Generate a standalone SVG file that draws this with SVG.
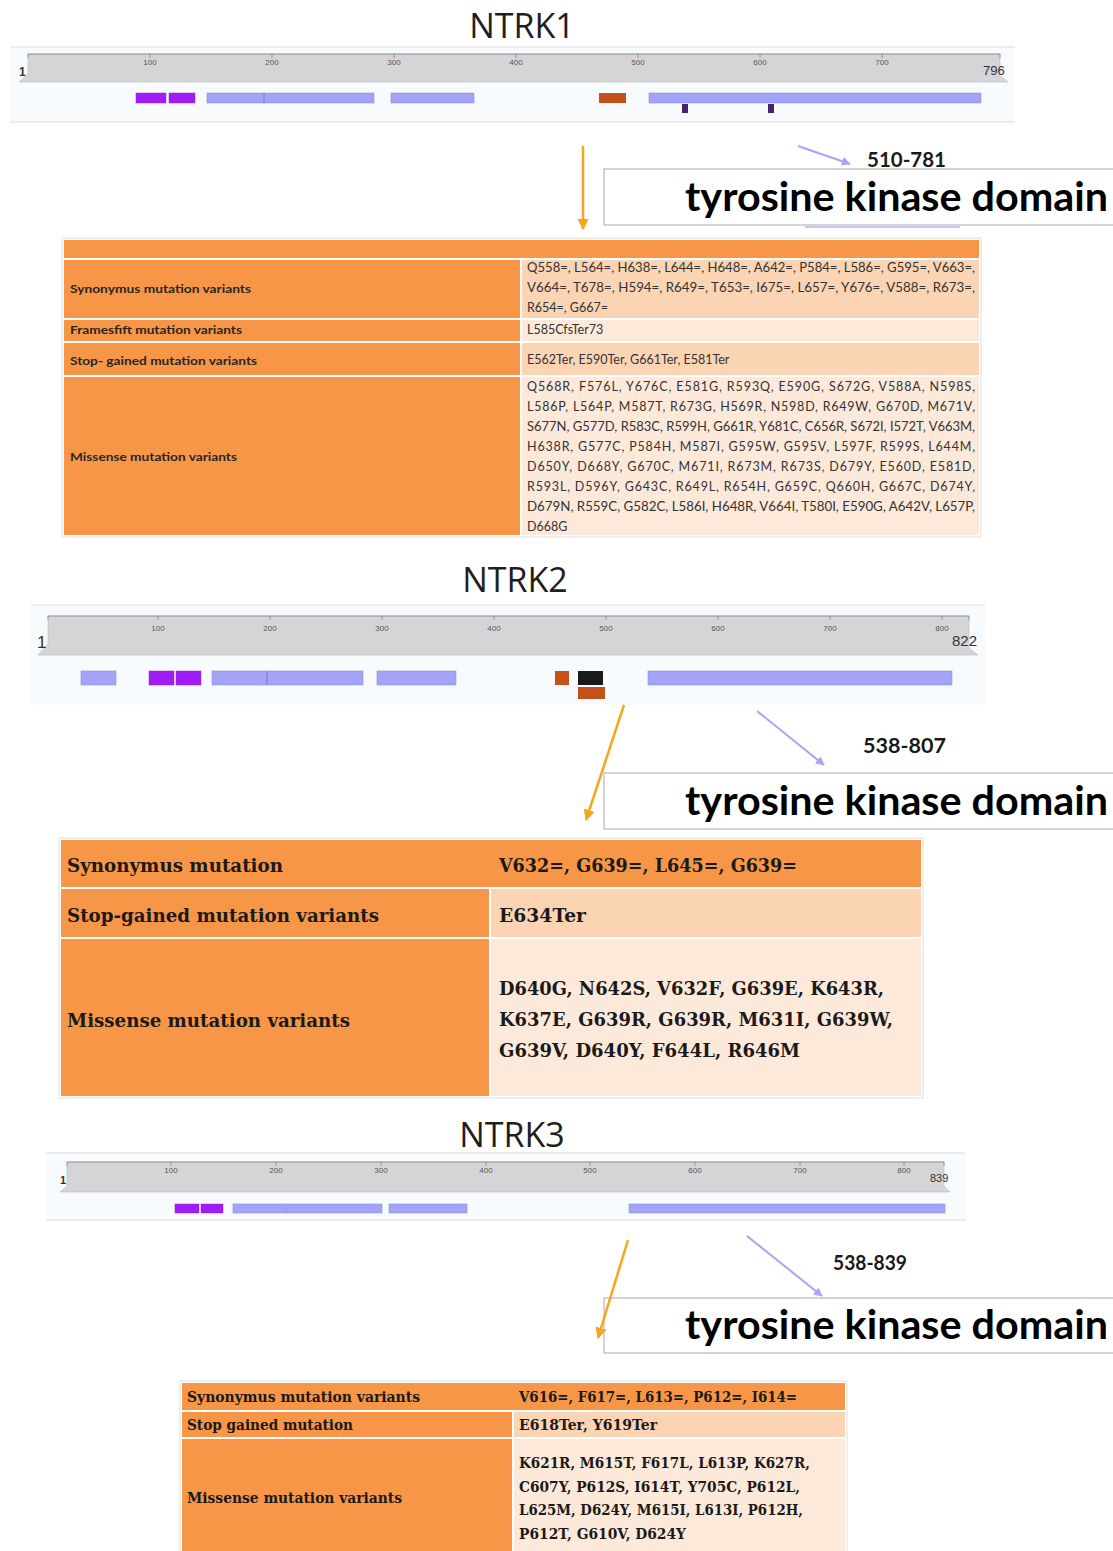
<svg xmlns="http://www.w3.org/2000/svg" width="1113" height="1551" viewBox="0 0 1113 1551">
<defs>
<style>
.title{font-family:"Open Sans","Noto Sans",sans-serif;font-size:34px;fill:#1e1e1e;text-anchor:middle}
.band{fill:#d5d5d7;stroke:#b8b8ba;stroke-width:0.6}
.cont{fill:#f8fbfd}
.cline{stroke:#dcdcdc;stroke-width:1}
.tick{stroke:#888;stroke-width:0.8}
.tl{font-family:"Liberation Sans",sans-serif;font-size:8px;fill:#555;text-anchor:middle}
.end{font-family:"Liberation Sans",sans-serif;fill:#333}
.pur{fill:#a01cf6;stroke:#8a2ad0;stroke-width:0.5}
.lav{fill:#a3a3fa;stroke:#9090d8;stroke-width:0.6}
.org{fill:#c4511c}
.blk{fill:#1a1a1a}
.mark{fill:#4a2068}
.or{fill:#f79646}
.pe{fill:#fbd4b4}
.lt{fill:#fde9d9}
.tframe{fill:#ffffff;stroke:#dedede;stroke-width:1}
.c1l{font-family:Lato,"Open Sans",sans-serif;font-weight:bold;font-size:12px;fill:#262626}
.c1r{font-family:Lato,"Open Sans",sans-serif;font-size:12.5px;fill:#333}
.sb{font-family:"DejaVu Serif","Liberation Serif",serif;font-weight:bold;fill:#1a1a1a}
.rng{font-family:Lato,"Open Sans",sans-serif;font-weight:bold;font-size:20px;fill:#1a1a1a}
.tkd{font-family:Lato,"Open Sans",sans-serif;font-weight:bold;font-size:40px;fill:#000}
.box{fill:#ffffff;stroke:#a8a8a8;stroke-width:1}
.ca{stroke:#f7a51e;stroke-width:2.5;fill:none}
.cl{stroke:#a6a6f2;stroke-width:2;fill:none}
</style>
<marker id="ao" viewBox="0 0 10 10" refX="9" refY="5" markerWidth="4.6" markerHeight="4.6" orient="auto"><path d="M0,0 L10,5 L0,10 z" fill="#f7a51e"/></marker>
<marker id="al" viewBox="0 0 10 10" refX="9" refY="5" markerWidth="4.5" markerHeight="4.5" orient="auto"><path d="M0,0 L10,5 L0,10 z" fill="#a6a6f2"/></marker>
</defs>
<rect x="0" y="0" width="1113" height="1551" fill="#ffffff"/>

<!-- NTRK1 -->
<g id="ntrk1-title"><text class="title" x="522" y="38">NTRK1</text></g>
<g id="ntrk1-ruler">
<rect class="cont" x="10" y="47" width="1005" height="75"/>
<line class="cline" x1="10" y1="47" x2="1015" y2="47"/>
<line class="cline" x1="10" y1="122" x2="1015" y2="122"/>
<polygon class="band" points="28,54 1000,54 1000,76 1008,82 19,82 28,74"/>
<line class="tick" x1="28" y1="54" x2="1000" y2="54"/>
<g class="tick"><line x1="28" y1="54" x2="28" y2="58"/><line x1="150" y1="54" x2="150" y2="58"/><line x1="272" y1="54" x2="272" y2="58"/><line x1="394" y1="54" x2="394" y2="58"/><line x1="516" y1="54" x2="516" y2="58"/><line x1="638" y1="54" x2="638" y2="58"/><line x1="760" y1="54" x2="760" y2="58"/><line x1="882" y1="54" x2="882" y2="58"/><line x1="1000" y1="54" x2="1000" y2="58"/></g>
<text class="tl" x="150" y="65">100</text><text class="tl" x="272" y="65">200</text><text class="tl" x="394" y="65">300</text><text class="tl" x="516" y="65">400</text><text class="tl" x="638" y="65">500</text><text class="tl" x="760" y="65">600</text><text class="tl" x="882" y="65">700</text>
<text class="end" x="19" y="76" font-size="12" font-weight="bold">1</text>
<text class="end" x="983" y="75" font-size="13">796</text>
</g>
<g id="ntrk1-domains">
<rect class="pur" x="136" y="93" width="30" height="10"/>
<rect class="pur" x="169" y="93" width="26" height="10"/>
<rect class="lav" x="207" y="93" width="167" height="10"/>
<line x1="264" y1="93" x2="264" y2="103" stroke="#7a7ac8" stroke-width="1"/>
<rect class="lav" x="391" y="93" width="83" height="10"/>
<rect class="org" x="599" y="93" width="27" height="10"/>
<rect class="lav" x="649" y="93" width="332" height="10"/>
<rect class="mark" x="682" y="104" width="6" height="9"/>
<rect class="mark" x="768" y="104" width="6" height="9"/>
</g>
<g id="ntrk1-label">
<text class="rng" x="867" y="167" textLength="79" lengthAdjust="spacingAndGlyphs">510-781</text>
<rect class="box" x="604" y="169" width="520" height="56"/>
<text class="tkd" x="685" y="211" textLength="423" lengthAdjust="spacingAndGlyphs">tyrosine kinase domain</text>
<line x1="805" y1="227" x2="960" y2="227" stroke="#b4b4f0" stroke-width="1.5"/>
</g>
<g id="ntrk1-table">
<rect class="tframe" x="62" y="238" width="919" height="299"/>
<rect class="or" x="64" y="240" width="915" height="18"/>
<rect class="or" x="64" y="260" width="456" height="58"/>
<rect class="pe" x="522" y="260" width="457" height="58"/>
<rect class="or" x="64" y="320" width="456" height="21"/>
<rect class="lt" x="522" y="320" width="457" height="21"/>
<rect class="or" x="64" y="343" width="456" height="32"/>
<rect class="pe" x="522" y="343" width="457" height="32"/>
<rect class="or" x="64" y="377" width="456" height="158"/>
<rect class="lt" x="522" y="377" width="457" height="158"/>
<text class="c1l" x="70" y="293" textLength="181" lengthAdjust="spacingAndGlyphs">Synonymus mutation variants</text>
<text class="c1l" x="70" y="334" textLength="172" lengthAdjust="spacingAndGlyphs">Framesfift mutation variants</text>
<text class="c1l" x="70" y="365" textLength="187" lengthAdjust="spacingAndGlyphs">Stop- gained mutation variants</text>
<text class="c1l" x="70" y="461" textLength="167" lengthAdjust="spacingAndGlyphs">Missense mutation variants</text>
<text class="c1r" x="527" y="272" textLength="448" lengthAdjust="spacingAndGlyphs">Q558=, L564=, H638=, L644=, H648=, A642=, P584=, L586=, G595=, V663=,</text>
<text class="c1r" x="527" y="292" textLength="448" lengthAdjust="spacingAndGlyphs">V664=, T678=, H594=, R649=, T653=, I675=, L657=, Y676=, V588=, R673=,</text>
<text class="c1r" x="527" y="312">R654=, G667=</text>
<text class="c1r" x="527" y="334">L585CfsTer73</text>
<text class="c1r" x="527" y="364">E562Ter, E590Ter, G661Ter, E581Ter</text>
<text class="c1r" x="527" y="391" textLength="448" lengthAdjust="spacing">Q568R, F576L, Y676C, E581G, R593Q, E590G, S672G, V588A, N598S,</text>
<text class="c1r" x="527" y="411" textLength="448" lengthAdjust="spacing">L586P, L564P, M587T, R673G, H569R, N598D, R649W, G670D, M671V,</text>
<text class="c1r" x="527" y="431" textLength="448" lengthAdjust="spacingAndGlyphs">S677N, G577D, R583C, R599H, G661R, Y681C, C656R, S672I, I572T, V663M,</text>
<text class="c1r" x="527" y="451" textLength="448" lengthAdjust="spacing">H638R, G577C, P584H, M587I, G595W, G595V, L597F, R599S, L644M,</text>
<text class="c1r" x="527" y="471" textLength="448" lengthAdjust="spacing">D650Y, D668Y, G670C, M671I, R673M, R673S, D679Y, E560D, E581D,</text>
<text class="c1r" x="527" y="491" textLength="448" lengthAdjust="spacing">R593L, D596Y, G643C, R649L, R654H, G659C, Q660H, G667C, D674Y,</text>
<text class="c1r" x="527" y="511" textLength="448" lengthAdjust="spacingAndGlyphs">D679N, R559C, G582C, L586I, H648R, V664I, T580I, E590G, A642V, L657P,</text>
<text class="c1r" x="527" y="531">D668G</text>
</g>

<!-- NTRK2 -->
<g id="ntrk2-title"><text class="title" x="515" y="592">NTRK2</text></g>
<g id="ntrk2-ruler">
<rect class="cont" x="31" y="605" width="954" height="100"/>
<line class="cline" x1="31" y1="605" x2="985" y2="605"/>
<polygon class="band" points="48,616 969,616 969,648 978,655 38,655 48,644"/>
<line class="tick" x1="48" y1="616" x2="969" y2="616"/>
<g class="tick"><line x1="48" y1="616" x2="48" y2="620"/><line x1="158" y1="616" x2="158" y2="620"/><line x1="270" y1="616" x2="270" y2="620"/><line x1="382" y1="616" x2="382" y2="620"/><line x1="494" y1="616" x2="494" y2="620"/><line x1="606" y1="616" x2="606" y2="620"/><line x1="718" y1="616" x2="718" y2="620"/><line x1="830" y1="616" x2="830" y2="620"/><line x1="942" y1="616" x2="942" y2="620"/><line x1="969" y1="616" x2="969" y2="620"/></g>
<g class="tl" font-size="9"><text x="158" y="631">100</text><text x="270" y="631">200</text><text x="382" y="631">300</text><text x="494" y="631">400</text><text x="606" y="631">500</text><text x="718" y="631">600</text><text x="830" y="631">700</text><text x="942" y="631">800</text></g>
<text class="end" x="37" y="648" font-size="17">1</text>
<text class="end" x="952" y="646" font-size="15">822</text>
</g>
<g id="ntrk2-domains">
<rect class="lav" x="81" y="671" width="35" height="14"/>
<rect class="pur" x="149" y="671" width="25" height="14"/>
<rect class="pur" x="176" y="671" width="25" height="14"/>
<rect class="lav" x="212" y="671" width="151" height="14"/>
<line x1="267" y1="671" x2="267" y2="685" stroke="#7a7ac8" stroke-width="1"/>
<rect class="lav" x="377" y="671" width="79" height="14"/>
<rect class="org" x="555" y="671" width="14" height="14"/>
<rect class="blk" x="578" y="671" width="25" height="14"/>
<rect class="org" x="578" y="687" width="27" height="12"/>
<rect class="lav" x="648" y="671" width="304" height="14"/>
</g>
<g id="ntrk2-label">
<text class="rng" x="863" y="753" textLength="83" lengthAdjust="spacingAndGlyphs">538-807</text>
<rect class="box" x="604" y="773" width="520" height="56"/>
<text class="tkd" x="685" y="815" textLength="423" lengthAdjust="spacingAndGlyphs">tyrosine kinase domain</text>
</g>
<g id="ntrk2-table">
<rect class="tframe" x="59" y="838" width="864" height="260"/>
<rect class="or" x="61" y="840" width="860" height="47"/>
<rect class="or" x="61" y="889" width="428" height="48"/>
<rect class="pe" x="491" y="889" width="430" height="48"/>
<rect class="or" x="61" y="939" width="428" height="157"/>
<rect class="lt" x="491" y="939" width="430" height="157"/>
<g class="sb" font-size="18.5">
<text x="67" y="872" textLength="216" lengthAdjust="spacingAndGlyphs">Synonymus mutation</text>
<text x="499" y="872" textLength="298" lengthAdjust="spacingAndGlyphs">V632=, G639=, L645=, G639=</text>
<text x="67" y="922" textLength="312" lengthAdjust="spacingAndGlyphs">Stop-gained mutation variants</text>
<text x="499" y="922" textLength="87" lengthAdjust="spacingAndGlyphs">E634Ter</text>
<text x="67" y="1027" textLength="283" lengthAdjust="spacingAndGlyphs">Missense mutation variants</text>
<text x="499" y="995" textLength="385" lengthAdjust="spacingAndGlyphs">D640G, N642S, V632F, G639E, K643R,</text>
<text x="499" y="1026" textLength="394" lengthAdjust="spacingAndGlyphs">K637E, G639R, G639R, M631I, G639W,</text>
<text x="499" y="1057" textLength="301" lengthAdjust="spacingAndGlyphs">G639V, D640Y, F644L, R646M</text>
</g>
</g>

<!-- NTRK3 -->
<g id="ntrk3-title"><text class="title" x="512" y="1147">NTRK3</text></g>
<g id="ntrk3-ruler">
<rect class="cont" x="46" y="1153" width="920" height="67"/>
<line class="cline" x1="46" y1="1153" x2="966" y2="1153"/>
<line class="cline" x1="46" y1="1220" x2="966" y2="1220"/>
<polygon class="band" points="67,1162 944,1162 944,1186 950,1192 60,1192 67,1186"/>
<line class="tick" x1="67" y1="1162" x2="944" y2="1162"/>
<g class="tick"><line x1="67" y1="1162" x2="67" y2="1166"/><line x1="171" y1="1162" x2="171" y2="1166"/><line x1="276" y1="1162" x2="276" y2="1166"/><line x1="381" y1="1162" x2="381" y2="1166"/><line x1="486" y1="1162" x2="486" y2="1166"/><line x1="590" y1="1162" x2="590" y2="1166"/><line x1="695" y1="1162" x2="695" y2="1166"/><line x1="800" y1="1162" x2="800" y2="1166"/><line x1="904" y1="1162" x2="904" y2="1166"/><line x1="944" y1="1162" x2="944" y2="1166"/></g>
<g class="tl" font-size="7.5"><text x="171" y="1173">100</text><text x="276" y="1173">200</text><text x="381" y="1173">300</text><text x="486" y="1173">400</text><text x="590" y="1173">500</text><text x="695" y="1173">600</text><text x="800" y="1173">700</text><text x="904" y="1173">800</text></g>
<text class="end" x="60" y="1184" font-size="11" font-weight="bold">1</text>
<text class="end" x="930" y="1182" font-size="11">839</text>
</g>
<g id="ntrk3-domains">
<rect class="pur" x="175" y="1204" width="24" height="9"/>
<rect class="pur" x="201" y="1204" width="22" height="9"/>
<rect class="lav" x="233" y="1204" width="149" height="9"/>
<line x1="287" y1="1204" x2="287" y2="1213" stroke="#9a9ae0" stroke-width="0.8"/>
<rect class="lav" x="389" y="1204" width="78" height="9"/>
<rect class="lav" x="629" y="1204" width="316" height="9"/>
</g>
<g id="ntrk3-label">
<text class="rng" x="833" y="1270" textLength="74" lengthAdjust="spacingAndGlyphs">538-839</text>
<rect class="box" x="604" y="1298" width="520" height="55"/>
<text class="tkd" x="685" y="1339" textLength="423" lengthAdjust="spacingAndGlyphs">tyrosine kinase domain</text>
</g>
<g id="ntrk3-table">
<rect class="tframe" x="180" y="1381" width="667" height="180"/>
<rect class="or" x="182" y="1383" width="663" height="27"/>
<rect class="or" x="182" y="1412" width="330" height="25"/>
<rect class="pe" x="514" y="1412" width="331" height="25"/>
<rect class="or" x="182" y="1439" width="330" height="120"/>
<rect class="lt" x="514" y="1439" width="331" height="120"/>
<g class="sb" font-size="14">
<text x="187" y="1402" textLength="233" lengthAdjust="spacingAndGlyphs">Synonymus mutation variants</text>
<text x="519" y="1402" textLength="278" lengthAdjust="spacingAndGlyphs">V616=, F617=, L613=, P612=, I614=</text>
<text x="187" y="1430" textLength="166" lengthAdjust="spacingAndGlyphs">Stop gained mutation</text>
<text x="519" y="1430" textLength="138" lengthAdjust="spacingAndGlyphs">E618Ter, Y619Ter</text>
<text x="187" y="1503" textLength="215" lengthAdjust="spacingAndGlyphs">Missense mutation variants</text>
<text x="519" y="1468" textLength="291" lengthAdjust="spacingAndGlyphs">K621R, M615T, F617L, L613P, K627R,</text>
<text x="519" y="1492" textLength="281" lengthAdjust="spacingAndGlyphs">C607Y, P612S, I614T, Y705C, P612L,</text>
<text x="519" y="1515" textLength="284" lengthAdjust="spacingAndGlyphs">L625M, D624Y, M615I, L613I, P612H,</text>
<text x="519" y="1539" textLength="167" lengthAdjust="spacingAndGlyphs">P612T, G610V, D624Y</text>
</g>
</g>

<g id="connectors">
<line class="ca" x1="583" y1="146" x2="583" y2="229" marker-end="url(#ao)"/>
<line class="cl" x1="798" y1="146" x2="850" y2="164" marker-end="url(#al)"/>
<line class="ca" x1="624" y1="705" x2="586" y2="820" marker-end="url(#ao)"/>
<line class="cl" x1="757" y1="711" x2="824" y2="765" marker-end="url(#al)"/>
<line class="ca" x1="628" y1="1240" x2="598" y2="1338" marker-end="url(#ao)"/>
<line class="cl" x1="747" y1="1236" x2="822" y2="1296" marker-end="url(#al)"/>
</g>
</svg>
